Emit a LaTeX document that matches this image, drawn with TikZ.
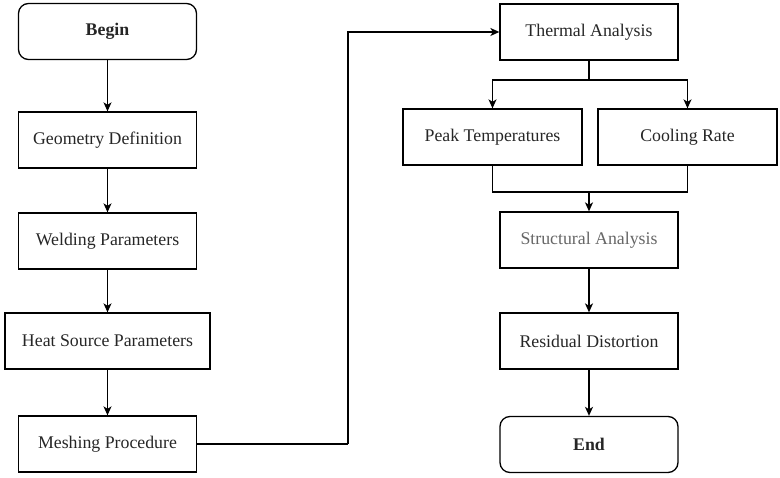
\documentclass[tikz,border=0pt]{standalone}
\usepackage{fontspec}
\setmainfont{Liberation Serif}[Ligatures=TeX]
\newfontfamily\tnr{Liberation Serif}
\usetikzlibrary{arrows.meta}
\begin{document}
\begin{tikzpicture}[x=1pt,y=1pt,
  box/.style={draw, line width=1.3pt, minimum width=#1, minimum height=56pt, inner sep=0pt, font=\tnr\fontsize{17.8}{20}\selectfont, text=black!85},
  box/.default=178pt,
  term/.style={box, rounded corners=10pt, font=\tnr\fontsize{17.8}{20}\selectfont\bfseries},
  arr/.style={line width=1.3pt, -{Stealth[length=9pt,width=8pt,inset=2.5pt]}},
  ln/.style={line width=1.3pt}]
\useasboundingbox (0,0) rectangle (780,-478);
\node[term] (begin) at (107.5,-31.5) {Begin};
\node[box] (geom) at (107.5,-140) {Geometry Definition};
\node[box] (weld) at (107.5,-241) {Welding Parameters};
\node[box=205pt] (heat) at (107.5,-341) {Heat Source Parameters};
\node[box] (mesh) at (107.5,-444) {Meshing Procedure};
\node[box] (thermal) at (589,-32) {Thermal Analysis};
\node[box=179pt] (peak) at (492.5,-137) {Peak Temperatures};
\node[box=179pt] (cool) at (687.5,-137) {Cooling Rate};
\node[box, text=black!60] (struct) at (589,-240) {Structural Analysis};
\node[box] (resid) at (589,-341) {Residual Distortion};
\node[term] (end) at (589,-444.5) {End};
\coordinate (jog) at (348,-444);
\coordinate (split) at (589,-80);
\coordinate (merge) at (589,-192);
\draw[arr] (begin) -- (geom);
\draw[arr] (geom) -- (weld);
\draw[arr] (weld) -- (heat);
\draw[arr] (heat) -- (mesh);
\draw[ln] (mesh.east) -- (jog);
\draw[arr] (jog) |- (thermal.west);
\draw[ln] (thermal.south) -- (split);
\draw[arr] (split) -| (peak.north);
\draw[arr] (split) -| (cool.north);
\draw[ln] (peak.south) |- (merge);
\draw[ln] (cool.south) |- (merge);
\draw[arr] (merge) -- (struct.north);
\draw[arr] (struct) -- (resid);
\draw[arr] (resid) -- (end);
\end{tikzpicture}
\end{document}
